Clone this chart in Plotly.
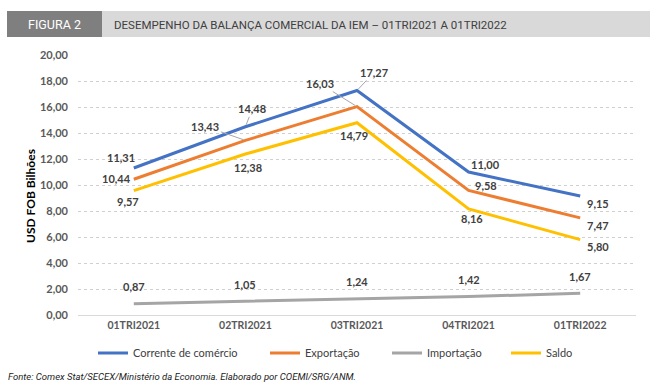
import plotly.graph_objects as go

categories = ["01TRI2021", "02TRI2021", "03TRI2021", "04TRI2021", "01TRI2022"]
corrente = [11.31, 14.48, 17.27, 11.00, 9.15]
exportacao = [10.44, 13.43, 16.03, 9.58, 7.47]
importacao = [0.87, 1.05, 1.24, 1.42, 1.67]
saldo = [9.57, 12.38, 14.79, 8.16, 5.80]

series = [
    ("Corrente de comércio", corrente, "#4472C4"),
    ("Exportação", exportacao, "#ED7D31"),
    ("Importação", importacao, "#A5A5A5"),
    ("Saldo", saldo, "#FFC000"),
]

# label offsets (dx, dy in px; dy positive = down); True marks a leader line
offsets = {
    "Corrente de comércio": [(-13, -10, False), (7, -18, True), (17, -18, True), (17, -8, False), (18, 7, False)],
    "Exportação": [(-17, -1, False), (-40, -14, True), (-37, -23, True), (17, -5, False), (18, 8, False)],
    "Importação": [(0, -17, False)] * 5,
    "Saldo": [(-6, 11, False), (3, 13, False), (-3, 13, False), (3, 10, False), (18, 7, False)],
}
legend_left = [93, 265, 387, 506]

W, H = 657, 386
L, R, T, B = 78, 636, 55, 315

def px(x):
    return (x - L) / (R - L)

def py(y):
    return (B - y) / (B - T)

body = "Lato, Open Sans, sans-serif"
cond = "Roboto, sans-serif"

fig = go.Figure()
legend_cfg = {}
for k, (name, vals, col) in enumerate(series):
    lg = "legend" if k == 0 else f"legend{k + 1}"
    fig.add_trace(go.Scatter(x=categories, y=vals, name=name, mode="lines",
                             line=dict(color=col, width=3), legend=lg))
    legend_cfg[lg] = dict(orientation="h", x=px(legend_left[k]), xanchor="left", y=py(353),
                          yanchor="middle", font=dict(family=body, size=11, color="#404040"),
                          itemwidth=30, bgcolor="rgba(0,0,0,0)", borderwidth=0)

lab_font = dict(family=body, size=11, color="#404040", weight="bold")
ann = []
for name, vals, col in series:
    for i, v in enumerate(vals):
        dx, dy, arrow = offsets[name][i]
        txt = f"{v:.2f}".replace(".", ",")
        if arrow:
            ann.append(dict(x=categories[i], y=v, xref="x", yref="y", text=txt, showarrow=True,
                            arrowhead=0, arrowwidth=1, arrowcolor="#A6A6A6", ax=dx, ay=dy,
                            standoff=2, font=lab_font))
        else:
            ann.append(dict(x=categories[i], y=v, xref="x", yref="y", text=txt, showarrow=False,
                            xshift=dx, yshift=-dy, font=lab_font))

ann.append(dict(x=px(54), y=py(25), xref="paper", yref="paper", text="FIGURA 2", showarrow=False,
                font=dict(family=cond, size=12.5, color="white"), xanchor="center", yanchor="middle"))
ann.append(dict(x=px(112), y=py(25), xref="paper", yref="paper",
                text="DESEMPENHO DA BALANÇA COMERCIAL DA IEM – 01TRI2021 A 01TRI2022", showarrow=False,
                font=dict(family=cond, size=11.5, color="#404040"), xanchor="left", yanchor="middle"))
ann.append(dict(x=px(6), y=py(376), xref="paper", yref="paper",
                text="<i>Fonte: Comex Stat/SECEX/Ministério da Economia. Elaborado por COEMI/SRG/ANM.</i>",
                showarrow=False, font=dict(family=cond, size=9.5, color="#222222"),
                xanchor="left", yanchor="middle"))
ann.append(dict(x=px(30), y=py(196), xref="paper", yref="paper", text="<b>USD FOB Bilhões</b>",
                showarrow=False, textangle=-90, font=dict(family=body, size=12, color="black"),
                xanchor="center", yanchor="middle"))

shapes = [
    dict(type="rect", xref="paper", yref="paper", x0=px(7), x1=px(102), y0=py(37), y1=py(11),
         fillcolor="#7F7F7F", line=dict(width=0), layer="below"),
    dict(type="rect", xref="paper", yref="paper", x0=px(102), x1=px(650), y0=py(37), y1=py(11),
         fillcolor="#D9D9D9", line=dict(width=0), layer="below"),
]

fig.update_layout(
    width=W, height=H,
    margin=dict(l=L, r=W - R, t=T, b=H - B, autoexpand=False),
    paper_bgcolor="white", plot_bgcolor="white",
    separators=",.",
    showlegend=True,
    annotations=ann,
    shapes=shapes,
    xaxis=dict(showgrid=False, showline=True, linecolor="#D9D9D9", linewidth=1,
               range=[-0.5, 4.5],
               tickfont=dict(family=body, size=10.5, color="#595959", weight="bold"),
               ticks="", fixedrange=True),
    yaxis=dict(range=[0, 20], dtick=2, tickformat=".2f", showgrid=True, griddash="dot",
               gridcolor="#D0D0D0", gridwidth=1, zeroline=False, showline=False,
               tickfont=dict(family=body, size=11, color="#595959", weight="bold"),
               ticks="", ticklabelstandoff=9),
    **legend_cfg,
)

fig.write_html("out.html", config={"displayModeBar": False},
               post_script="document.body.style.margin='0';")
